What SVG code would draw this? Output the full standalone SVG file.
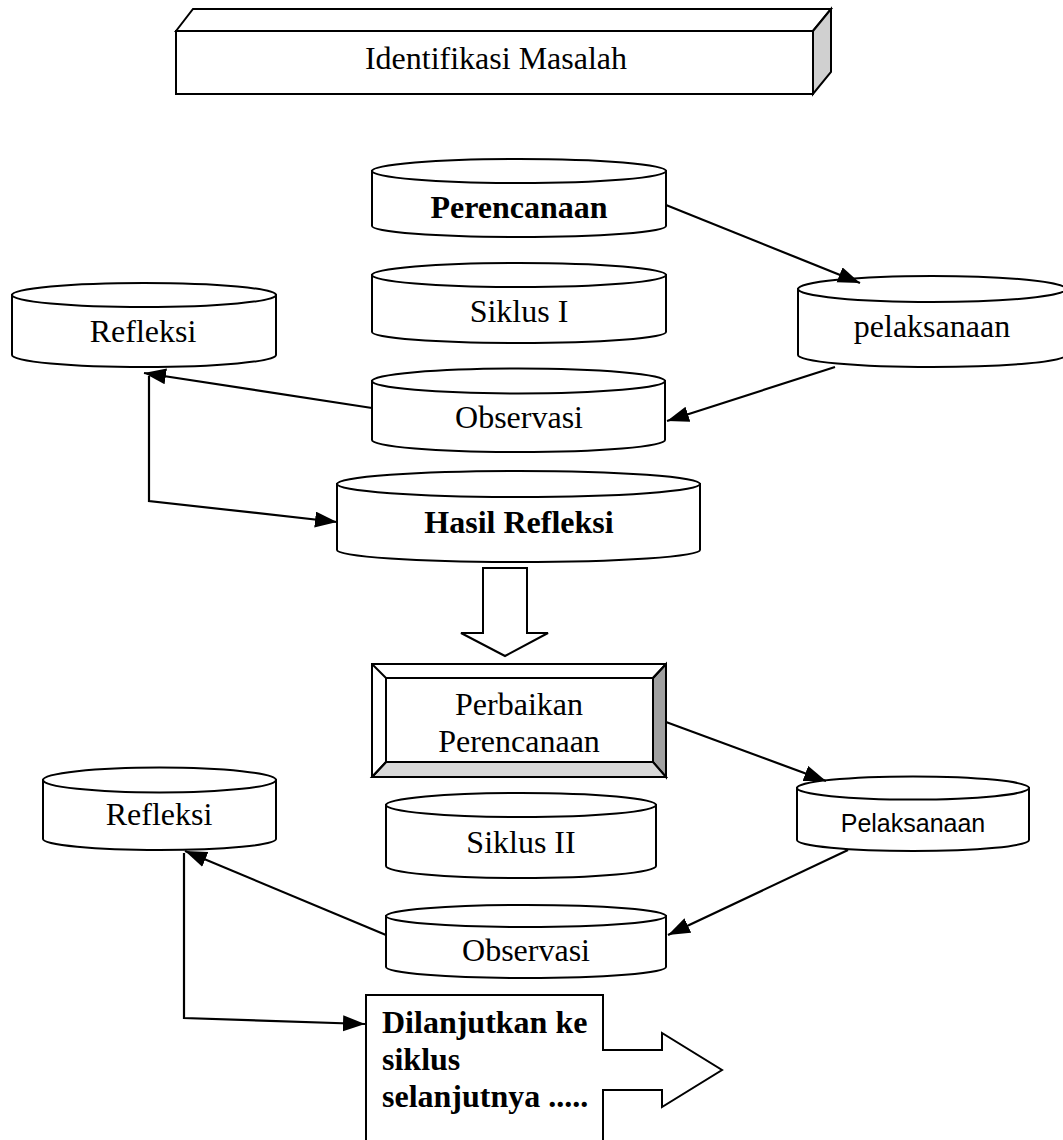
<svg xmlns="http://www.w3.org/2000/svg" width="1063" height="1140" viewBox="0 0 1063 1140">
<defs>
<style>
.s{fill:#fff;stroke:#000;stroke-width:2}
.c{fill:none;stroke:#000;stroke-width:2.2}
.t{font-family:"Liberation Serif","Times New Roman",serif;font-size:32px;fill:#000;text-anchor:middle}
.b{font-weight:bold}
.l{text-anchor:start}
.sans{font-family:"Liberation Sans",Arial,sans-serif;font-size:25px}
</style>
<marker id="ah" markerUnits="userSpaceOnUse" markerWidth="24" markerHeight="18" refX="22" refY="8" orient="auto">
<path d="M0,0 L22,8 L0,16 Z" fill="#000"/>
</marker>
</defs>
<rect width="1063" height="1140" fill="#fff"/>

<g id="identifikasi">
<polygon class="s" points="176,31 193,9 831,9 813,31"/>
<polygon class="s" points="813,31 831,9 831,72 813,94" style="fill:#d0d0d0"/>
<rect class="s" x="176" y="31" width="637" height="63"/>
<text class="t" x="496" y="69">Identifikasi Masalah</text>
</g>

<g id="perencanaan">
<path class="s" d="M372,171 L372,226 A147,11 0 0 0 666,226 L666,171 Z"/>
<ellipse class="s" cx="519" cy="171" rx="147" ry="12"/>
<text class="t b" x="519" y="218">Perencanaan</text>
</g>

<g id="siklus1">
<path class="s" d="M372,275 L372,332 A147,11 0 0 0 666,332 L666,275 Z"/>
<ellipse class="s" cx="519" cy="275" rx="147" ry="12"/>
<text class="t" x="519" y="322">Siklus I</text>
</g>

<g id="refleksi1">
<path class="s" d="M12,295 L12,355 A132,12 0 0 0 276,355 L276,295 Z"/>
<ellipse class="s" cx="144" cy="295" rx="132" ry="12"/>
<text class="t" x="143" y="342">Refleksi</text>
</g>

<g id="pelaksanaan1">
<path class="s" d="M798,289 L798,355 A134,12 0 0 0 1066,355 L1066,289 Z"/>
<ellipse class="s" cx="932" cy="289" rx="134" ry="13"/>
<text class="t" x="932" y="337">pelaksanaan</text>
</g>

<g id="observasi1">
<path class="s" d="M372,381 L372,440 A146.5,12 0 0 0 665,440 L665,381 Z"/>
<ellipse class="s" cx="518.5" cy="381" rx="146.5" ry="12.5"/>
<text class="t" x="519" y="428">Observasi</text>
</g>

<g id="hasil-refleksi">
<path class="s" d="M337,484 L337,550 A181.5,12 0 0 0 700,550 L700,484 Z"/>
<ellipse class="s" cx="518.5" cy="484" rx="181.5" ry="13"/>
<text class="t b" x="519" y="533">Hasil Refleksi</text>
</g>

<g id="panah-bawah">
<polygon class="s" points="483,568 527,568 527,633 548,633 505,656 461,633 483,633"/>
</g>

<g id="perbaikan">
<rect class="s" x="372" y="664" width="294" height="113"/>
<polygon points="653,678 666,664 666,777 653,762" fill="#a0a0a0" stroke="#000" stroke-width="2"/>
<polygon points="386,762 653,762 666,777 372,777" fill="#d9d9d9" stroke="#000" stroke-width="2"/>
<line x1="372" y1="664" x2="386" y2="678" stroke="#000" stroke-width="2"/>
<line x1="666" y1="664" x2="653" y2="678" stroke="#000" stroke-width="2"/>
<line x1="372" y1="777" x2="386" y2="762" stroke="#000" stroke-width="2"/>
<rect class="s" x="386" y="678" width="267" height="84"/>
<text class="t" x="519" y="715">Perbaikan</text>
<text class="t" x="519" y="752">Perencanaan</text>
</g>

<g id="refleksi2">
<path class="s" d="M43,780 L43,839 A116.5,11 0 0 0 276,839 L276,780 Z"/>
<ellipse class="s" cx="159.5" cy="780" rx="116.5" ry="12.5"/>
<text class="t" x="159" y="825">Refleksi</text>
</g>

<g id="pelaksanaan2">
<path class="s" d="M797,788 L797,840 A116,11 0 0 0 1029,840 L1029,788 Z"/>
<ellipse class="s" cx="913" cy="788" rx="116" ry="11.5"/>
<text class="t sans" x="913" y="832">Pelaksanaan</text>
</g>

<g id="siklus2">
<path class="s" d="M386,805 L386,866 A135,12 0 0 0 656,866 L656,805 Z"/>
<ellipse class="s" cx="521" cy="805" rx="135" ry="12"/>
<text class="t" x="521" y="853">Siklus II</text>
</g>

<g id="observasi2">
<path class="s" d="M386,916 L386,967 A140,11 0 0 0 666,967 L666,916 Z"/>
<ellipse class="s" cx="526" cy="916" rx="140" ry="11"/>
<text class="t" x="526" y="961">Observasi</text>
</g>

<g id="dilanjutkan">
<path class="s" d="M366,1150 L366,995 L603,995 L603,1050 L662,1050 L662,1033 L722,1070 L662,1107 L662,1090 L603,1090 L603,1150"/>
<text class="t b l" x="382" y="1033">Dilanjutkan ke</text>
<text class="t b l" x="382" y="1070">siklus</text>
<text class="t b l" x="382" y="1107">selanjutnya .....</text>
</g>

<g id="connectors">
<line class="c" x1="666" y1="205" x2="860" y2="283" marker-end="url(#ah)"/>
<line class="c" x1="835" y1="367" x2="667" y2="421" marker-end="url(#ah)"/>
<line class="c" x1="372" y1="408" x2="144" y2="373" marker-end="url(#ah)"/>
<polyline class="c" points="149,376 149,501 337,522" marker-end="url(#ah)"/>
<line class="c" x1="666" y1="722" x2="826" y2="781" marker-end="url(#ah)"/>
<line class="c" x1="848" y1="850" x2="668" y2="935" marker-end="url(#ah)"/>
<line class="c" x1="386" y1="935" x2="185" y2="851" marker-end="url(#ah)"/>
<polyline class="c" points="184,853 184,1018 365,1024" marker-end="url(#ah)"/>
</g>
</svg>
